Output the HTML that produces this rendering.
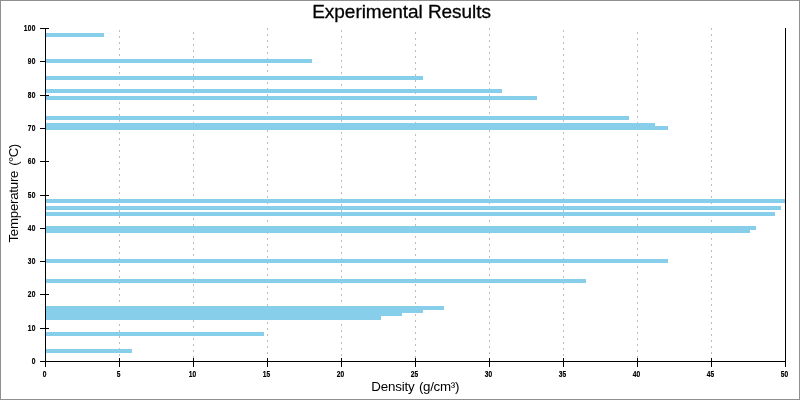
<!DOCTYPE html>
<html lang="en">
<head>
<meta charset="utf-8">
<title>Experimental Results</title>
<style>
html,body{margin:0;padding:0;background:#fff;}
body{width:800px;height:400px;overflow:hidden;}
svg{display:block;}
.t{font-family:"Liberation Sans",Arial,sans-serif;fill:#000;}
.k{font-family:"Liberation Sans",Arial,sans-serif;font-weight:bold;font-size:8.5px;fill:#000;letter-spacing:0.35px;stroke:#000;stroke-width:0.2px;}
</style>
</head>
<body>
<svg width="800" height="400" viewBox="0 0 800 400">
<rect x="0" y="0" width="800" height="400" fill="#ffffff"/>
<g shape-rendering="crispEdges">
<rect x="0.5" y="0.5" width="799" height="399" fill="none" stroke="#909090" stroke-width="1"/>
<g stroke="#bebebe" stroke-width="1" stroke-dasharray="2 4">
<line x1="119.5" y1="30" x2="119.5" y2="361"/>
<line x1="193.5" y1="32" x2="193.5" y2="361"/>
<line x1="267.5" y1="28" x2="267.5" y2="361"/>
<line x1="341.5" y1="30" x2="341.5" y2="361"/>
<line x1="415.5" y1="32" x2="415.5" y2="361"/>
<line x1="489.5" y1="28" x2="489.5" y2="361"/>
<line x1="563.5" y1="30" x2="563.5" y2="361"/>
<line x1="637.5" y1="32" x2="637.5" y2="361"/>
<line x1="711.5" y1="28" x2="711.5" y2="361"/>
</g>
<g fill="#000000">
<rect x="40" y="361" width="9" height="1"/>
<rect x="40" y="328" width="9" height="1"/>
<rect x="40" y="294" width="9" height="1"/>
<rect x="40" y="261" width="9" height="1"/>
<rect x="40" y="228" width="9" height="1"/>
<rect x="40" y="195" width="9" height="1"/>
<rect x="40" y="161" width="9" height="1"/>
<rect x="40" y="128" width="9" height="1"/>
<rect x="40" y="95" width="9" height="1"/>
<rect x="40" y="61" width="9" height="1"/>
<rect x="40" y="28" width="9" height="1"/>
<rect x="45" y="358" width="1" height="9"/>
<rect x="119" y="358" width="1" height="9"/>
<rect x="193" y="358" width="1" height="9"/>
<rect x="267" y="358" width="1" height="9"/>
<rect x="341" y="358" width="1" height="9"/>
<rect x="415" y="358" width="1" height="9"/>
<rect x="489" y="358" width="1" height="9"/>
<rect x="563" y="358" width="1" height="9"/>
<rect x="637" y="358" width="1" height="9"/>
<rect x="711" y="358" width="1" height="9"/>
<rect x="785" y="358" width="1" height="9"/>
</g>
<g fill="#87ceeb">
<rect x="46" y="33" width="58" height="4"/>
<rect x="46" y="59" width="266" height="4"/>
<rect x="46" y="76" width="377" height="4"/>
<rect x="46" y="89" width="456" height="4"/>
<rect x="46" y="96" width="491" height="4"/>
<rect x="46" y="116" width="583" height="4"/>
<rect x="46" y="123" width="609" height="4"/>
<rect x="46" y="126" width="622" height="4"/>
<rect x="46" y="199" width="739" height="4"/>
<rect x="46" y="206" width="735" height="4"/>
<rect x="46" y="212" width="729" height="4"/>
<rect x="46" y="226" width="710" height="4"/>
<rect x="46" y="229" width="704" height="4"/>
<rect x="46" y="259" width="622" height="4"/>
<rect x="46" y="279" width="540" height="4"/>
<rect x="46" y="306" width="398" height="4"/>
<rect x="46" y="309" width="377" height="4"/>
<rect x="46" y="312" width="356" height="4"/>
<rect x="46" y="316" width="335" height="4"/>
<rect x="46" y="332" width="218" height="4"/>
<rect x="46" y="349" width="86" height="4"/>
</g>
<g fill="#000000">
<rect x="45" y="28" width="1" height="334"/>
<rect x="785" y="28" width="1" height="334"/>
<rect x="45" y="361" width="741" height="1"/>
</g>
</g>
<g style="filter:grayscale(1)">
<text class="k" transform="translate(35.6,363.6) scale(0.78,1)" text-anchor="end">0</text>
<text class="k" transform="translate(35.6,330.6) scale(0.78,1)" text-anchor="end">10</text>
<text class="k" transform="translate(35.6,296.6) scale(0.78,1)" text-anchor="end">20</text>
<text class="k" transform="translate(35.6,263.6) scale(0.78,1)" text-anchor="end">30</text>
<text class="k" transform="translate(35.6,230.6) scale(0.78,1)" text-anchor="end">40</text>
<text class="k" transform="translate(35.6,197.6) scale(0.78,1)" text-anchor="end">50</text>
<text class="k" transform="translate(35.6,163.6) scale(0.78,1)" text-anchor="end">60</text>
<text class="k" transform="translate(35.6,130.6) scale(0.78,1)" text-anchor="end">70</text>
<text class="k" transform="translate(35.6,97.6) scale(0.78,1)" text-anchor="end">80</text>
<text class="k" transform="translate(35.6,63.6) scale(0.78,1)" text-anchor="end">90</text>
<text class="k" transform="translate(35.6,30.6) scale(0.78,1)" text-anchor="end">100</text>
<text class="k" transform="translate(44.6,376.6) scale(0.78,1)" text-anchor="middle">0</text>
<text class="k" transform="translate(118.6,376.6) scale(0.78,1)" text-anchor="middle">5</text>
<text class="k" transform="translate(192.6,376.6) scale(0.78,1)" text-anchor="middle">10</text>
<text class="k" transform="translate(266.6,376.6) scale(0.78,1)" text-anchor="middle">15</text>
<text class="k" transform="translate(340.6,376.6) scale(0.78,1)" text-anchor="middle">20</text>
<text class="k" transform="translate(414.6,376.6) scale(0.78,1)" text-anchor="middle">25</text>
<text class="k" transform="translate(488.6,376.6) scale(0.78,1)" text-anchor="middle">30</text>
<text class="k" transform="translate(562.6,376.6) scale(0.78,1)" text-anchor="middle">35</text>
<text class="k" transform="translate(636.6,376.6) scale(0.78,1)" text-anchor="middle">40</text>
<text class="k" transform="translate(710.6,376.6) scale(0.78,1)" text-anchor="middle">45</text>
<text class="k" transform="translate(784.6,376.6) scale(0.78,1)" text-anchor="middle">50</text>
<text class="t" x="401.6" y="17.7" font-size="19" letter-spacing="-0.04" stroke="#000" stroke-width="0.3" text-anchor="middle">Experimental Results</text>
<text class="t" x="415.2" y="391" font-size="13.33" letter-spacing="-0.18" text-anchor="middle">Density <tspan dx="0.9" letter-spacing="-0.28">(g/cm³)</tspan></text>
<text class="t" transform="translate(17.5,193.5) rotate(-90)" font-size="13.33" letter-spacing="-0.27" text-anchor="middle">Temperature <tspan dx="1.5" letter-spacing="-0.6">(°C)</tspan></text>
</g>
</svg>
</body>
</html>
